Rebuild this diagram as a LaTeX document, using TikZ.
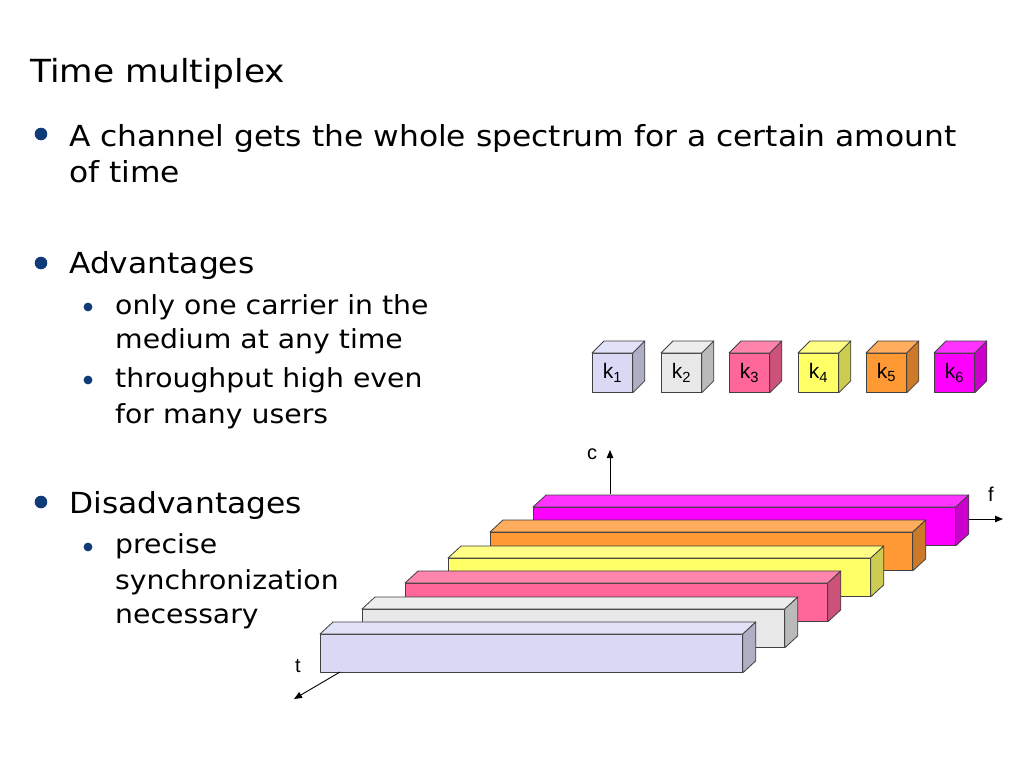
\documentclass[tikz,border=0pt]{standalone}
\usepackage{fontspec}
\setmainfont[FakeStretch=1.08]{DejaVu Sans}
\newfontfamily\labelfont{Liberation Sans}
\usepackage{tikz}
\usetikzlibrary{arrows.meta,positioning}
\definecolor{SlideBlue}{HTML}{0F3C78}
\definecolor{SlideLine}{HTML}{404040}
\definecolor{ChanLav}{HTML}{D9D9F6}
\definecolor{ChanGrey}{HTML}{E8E8E8}
\definecolor{ChanPink}{HTML}{FF6699}
\definecolor{ChanYellow}{HTML}{FFFF66}
\definecolor{ChanOrange}{HTML}{FF9933}
\definecolor{ChanMagenta}{HTML}{FF00FF}

% one channel bar: name, front top-left corner, colour
\newcommand{\chanbar}[3]{%
  \node[chanfront, fill=#3] (#1) at #2 {};
  \draw[faceline, fill=#3!80!white] (#1.north west) -- ++(13,-12)
    -- ([shift={(13,-12)}]#1.north east) -- (#1.north east) -- cycle;
  \draw[faceline, fill=#3!80!black] (#1.north east) -- ++(13,-12)
    -- ([shift={(13,-12)}]#1.south east) -- (#1.south east) -- cycle;
}
% one user cube: name, front top-left corner, colour, label
\newcommand{\chancube}[4]{%
  \node[cubefront, fill=#3] (#1) at #2 {k\textsubscript{#4}};
  \draw[faceline, fill=#3!80!white] (#1.north west) -- ++(12,-12)
    -- ([shift={(12,-12)}]#1.north east) -- (#1.north east) -- cycle;
  \draw[faceline, fill=#3!80!black] (#1.north east) -- ++(12,-12)
    -- ([shift={(12,-12)}]#1.south east) -- (#1.south east) -- cycle;
}

\begin{document}
\begin{tikzpicture}[x=1pt, y=-1pt,
  faceline/.style={draw=SlideLine, line width=0.8pt, line join=round},
  chanfront/.style={faceline, anchor=north west, inner sep=0pt,
                    minimum width=422pt, minimum height=38pt},
  cubefront/.style={faceline, anchor=north west, inner sep=0pt,
                    minimum width=40pt, minimum height=39pt,
                    font=\labelfont\fontsize{21}{24}\selectfont},
  txttitle/.style={anchor=base west, inner sep=0pt,
                   font=\fontsize{31.8}{38}\selectfont},
  txtmain/.style={anchor=base west, inner sep=0pt,
                  font=\fontsize{29}{34}\selectfont},
  txtsub/.style={anchor=base west, inner sep=0pt,
                 font=\fontsize{26.2}{30}\selectfont},
  axislabel/.style={inner sep=0pt, font=\labelfont\fontsize{20}{22}\selectfont},
  axis/.style={-{Triangle[length=8pt,width=6.5pt]}, line width=0.9pt, draw=black}
]
\useasboundingbox (0,0) rectangle (1024,768);
\fill[white] (0,0) rectangle (1024,768);

% text
\node[txttitle] (title) at (30,82) {Time multiplex};
\fill[SlideBlue] (41,134) circle (6.3);
\node[txtmain] (bul1a) at (69,146) {A channel gets the whole spectrum for a certain amount};
\node[txtmain] (bul1b) at (69,182) {of time};
\fill[SlideBlue] (41,263) circle (6.3);
\node[txtmain] (adv) at (69,273) {Advantages};
\fill[SlideBlue] (88,307) circle (4.4);
\node[txtsub] (adv1a) at (115,314) {only one carrier in the};
\node[txtsub] (adv1b) at (115,348) {medium at any time};
\fill[SlideBlue] (88,380) circle (4.4);
\node[txtsub] (adv2a) at (115,387) {throughput high even};
\node[txtsub] (adv2b) at (115,423) {for many users};
\fill[SlideBlue] (41,502) circle (6.3);
\node[txtmain] (dis) at (69,513) {Disadvantages};
\fill[SlideBlue] (88,547) circle (4.4);
\node[txtsub] (dis1a) at (115,553) {precise};
\node[txtsub] (dis1b) at (115,589) {synchronization};
\node[txtsub] (dis1c) at (115,623) {necessary};

% users
\chancube{k1}{(592,353)}{ChanLav}{1}
\chancube{k2}{(661,353)}{ChanGrey}{2}
\chancube{k3}{(729,353)}{ChanPink}{3}
\chancube{k4}{(798,353)}{ChanYellow}{4}
\chancube{k5}{(866,353)}{ChanOrange}{5}
\chancube{k6}{(934,353)}{ChanMagenta}{6}

% axes
\coordinate (corg) at (610,494);
\coordinate (ctip) at (610,450);
\coordinate (forg) at (968,519);
\coordinate (ftip) at (1003,519);
\coordinate (torg) at (340,672);
\coordinate (ttip) at (294,699);
\draw[axis] (corg) -- (ctip);
\node[axislabel] (clab) at (592,454) {c};
\draw[axis] (forg) -- (ftip);
\node[axislabel] (flab) at (991,494) {f};
\node[axislabel] (tlab) at (298,666) {t};

% channels, back to front
\chanbar{b6}{(533,507)}{ChanMagenta}
\chanbar{b5}{(490,532)}{ChanOrange}
\chanbar{b4}{(448,558)}{ChanYellow}
\chanbar{b3}{(405,583)}{ChanPink}
\chanbar{b2}{(362,609)}{ChanGrey}
\chanbar{b1}{(320,634)}{ChanLav}
\draw[axis] (torg) -- (ttip);
\end{tikzpicture}
\end{document}
